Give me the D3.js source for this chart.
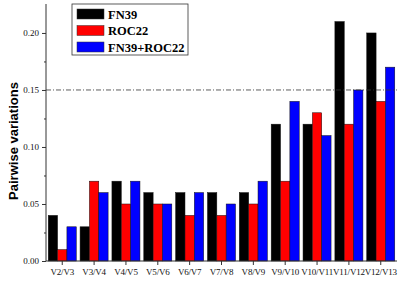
<!DOCTYPE html>
<html>
<head>
<meta charset="utf-8">
<script src="https://cdn.jsdelivr.net/npm/d3@7"></script>
<style>
  html, body { margin: 0; padding: 0; background: #fff; }
  svg text { font-family: "Liberation Serif", "Times New Roman", serif; }
</style>
</head>
<body>
<div id="chart"></div>
<script>
// ── Data ───────────────────────────────────────────────────────────────
const categories = ["V2/V3", "V3/V4", "V4/V5", "V5/V6", "V6/V7", "V7/V8",
  "V8/V9", "V9/V10", "V10/V11", "V11/V12", "V12/V13"];
const seriesNames = ["FN39", "ROC22", "FN39+ROC22"];
const fn39 = [0.04, 0.03, 0.07, 0.06, 0.06, 0.06, 0.06, 0.12, 0.12, 0.21, 0.20];
const roc22 = [0.01, 0.07, 0.05, 0.05, 0.04, 0.04, 0.05, 0.07, 0.13, 0.12, 0.14];
const both = [0.03, 0.06, 0.07, 0.05, 0.06, 0.05, 0.07, 0.14, 0.11, 0.15, 0.17];
const yTicks = [0, 0.05, 0.10, 0.15, 0.20];
const yMinorTicks = [0.025, 0.075, 0.125, 0.175];
const cutoff = 0.15;

const colors = ["#000000", "#ff0000", "#0000ff"];
const values = [fn39, roc22, both];

// ── Dimensions ─────────────────────────────────────────────────────────
const W = 410, H = 282;
const plotLeft = 46, plotRight = 397, plotTop = 4, plotBottom = 261;

const svg = d3.select("#chart").append("svg")
  .attr("width", W).attr("height", H);

// ── Scales ─────────────────────────────────────────────────────────────
const x = d3.scaleBand().domain(categories).range([plotLeft, plotRight])
  .paddingInner(0.12).paddingOuter(0.07);
const xs = d3.scaleBand().domain(seriesNames).range([0, x.bandwidth()]);
const y = d3.scaleLinear().domain([0, 0.2254]).range([plotBottom, plotTop]);

// ── Bars ───────────────────────────────────────────────────────────────
categories.forEach((c, i) => {
  seriesNames.forEach((s, j) => {
    svg.append("rect")
      .attr("x", x(c) + xs(s))
      .attr("y", y(values[j][i]))
      .attr("width", xs.bandwidth())
      .attr("height", y(0) - y(values[j][i]))
      .attr("fill", colors[j])
      .attr("stroke", "#111")
      .attr("stroke-width", 0.5);
  });
});

// ── Reference line ─────────────────────────────────────────────────────
svg.append("line")
  .attr("x1", plotLeft).attr("x2", plotRight)
  .attr("y1", y(cutoff)).attr("y2", y(cutoff))
  .attr("stroke", "#333").attr("stroke-width", 0.8)
  .attr("stroke-dasharray", "5,2,1,2");

// ── Axes ───────────────────────────────────────────────────────────────
const yAxis = svg.append("g")
  .attr("transform", `translate(${plotLeft},0)`)
  .call(d3.axisLeft(y).tickValues(yTicks).tickFormat(d3.format(".2f"))
    .tickSize(4).tickSizeOuter(0));
svg.append("g")
  .attr("transform", `translate(${plotLeft},0)`)
  .call(d3.axisLeft(y).tickValues(yMinorTicks).tickFormat("")
    .tickSize(2).tickSizeOuter(0))
  .select(".domain").remove();
yAxis.select(".domain").attr("d", `M0,${plotTop}V${plotBottom}`);

const xAxis = svg.append("g")
  .attr("transform", `translate(0,${plotBottom})`)
  .call(d3.axisBottom(x).tickSize(4).tickSizeOuter(0).tickPadding(4));
xAxis.select(".domain").attr("d", `M${plotLeft},0H${plotRight}`);

svg.selectAll(".domain, .tick line").attr("stroke", "#333").attr("stroke-width", 1);
yAxis.selectAll(".tick text").attr("font-size", 9)
  .attr("font-family", "Liberation Serif").attr("fill", "#111");
xAxis.selectAll(".tick text").attr("font-size", 9)
  .attr("letter-spacing", -0.2)
  .attr("font-family", "Liberation Serif").attr("fill", "#111");

// ── Axis label ─────────────────────────────────────────────────────────
svg.append("text")
  .attr("transform", "rotate(-90)")
  .attr("x", -141).attr("y", 18)
  .attr("text-anchor", "middle")
  .attr("font-weight", "bold")
  .attr("font-size", 13)
  .style("font-family", "'Liberation Sans', Arial, sans-serif")
  .text("Pairwise variations");

// ── Legend ─────────────────────────────────────────────────────────────
const legend = svg.append("g").attr("transform", "translate(72,4)");
legend.append("rect")
  .attr("width", 116).attr("height", 51)
  .attr("fill", "#fff").attr("stroke", "#333").attr("stroke-width", 0.8);
seriesNames.forEach((s, i) => {
  const row = legend.append("g").attr("transform", `translate(0,${10 + i * 16.5})`);
  row.append("rect")
    .attr("x", 5).attr("y", -5).attr("width", 27).attr("height", 10)
    .attr("fill", colors[i]).attr("stroke", "#333").attr("stroke-width", 0.5);
  row.append("text")
    .attr("x", 36).attr("y", 4.5)
    .attr("font-size", 12.5).attr("font-weight", "bold")
    .attr("fill", "#000")
    .text(s);
});
</script>
</body>
</html>
